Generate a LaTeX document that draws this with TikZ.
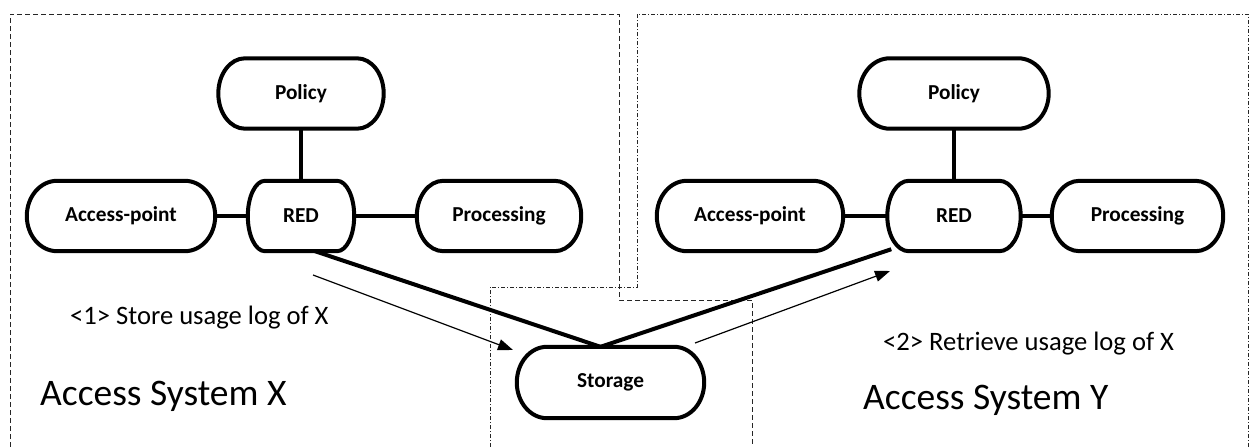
\documentclass[tikz,border=0pt]{standalone}
\usepackage{fontspec}
\setmainfont{Carlito}
\usetikzlibrary{arrows.meta,calc}

% Terminator outline (flowchart end shape) drawn around a placed node
\newcommand\termshape[1]{%
  \draw[outline] let \p1=(#1.south west), \p2=(#1.north east),
    \n1={0.161*(\x2-\x1)}, \n2={(\y2-\y1)/2} in
    (\x1+\n1,\y1) -- (\x2-\n1,\y1)
    arc[start angle=-90,end angle=90,x radius=\n1,y radius=\n2]
    -- (\x1+\n1,\y2)
    arc[start angle=90,end angle=270,x radius=\n1,y radius=\n2] -- cycle;}

\begin{document}
\begin{tikzpicture}[x=1pt,y=1pt,
  term/.style={rectangle,inner sep=0pt,minimum height=70pt,
    font=\bfseries\fontsize{21.3}{25}\selectfont},
  outline/.style={line width=4pt,line join=round},
  link/.style={line width=4pt},
  flow/.style={line width=1.2pt,-{Triangle[length=15pt,width=11pt]}},
  zonex/.style={line width=1pt,black!85,dash pattern=on 5pt off 3pt},
  zoney/.style={line width=1pt,black!85,dash pattern=on 4pt off 2pt on 1pt off 2pt},
  note/.style={inner sep=0pt,anchor=base west,font=\fontsize{26.6}{31}\selectfont},
  title/.style={inner sep=0pt,anchor=base west,font=\fontsize{37.5}{44}\selectfont}]

\useasboundingbox (0,0) rectangle (1250,-447);

% system boundaries
\draw[zonex] (10,-447) -- (10,-14) -- (619,-14) -- (619,-300) -- (752,-300) -- (752,-447);
\draw[zoney] (490,-447) -- (490,-287) -- (637,-287) -- (637,-14) -- (1248,-14) -- (1248,-447);

% access system X
\node[term,minimum width=165pt] (polx) at (301,-93.5) {Policy};
\node[term,minimum width=188pt] (apx) at (121,-216) {Access-point};
\node[term,minimum width=106pt] (redx) at (301,-216) {RED};
\node[term,minimum width=164pt] (procx) at (499,-216) {Processing};

% access system Y
\node[term,minimum width=189pt] (poly) at (954,-93.5) {Policy};
\node[term,minimum width=186pt] (apy) at (750,-216) {Access-point};
\node[term,minimum width=133pt] (redy) at (954,-216) {RED};
\node[term,minimum width=171pt] (procy) at (1137.5,-216) {Processing};

% shared storage
\node[term,minimum width=187pt,minimum height=71pt] (stor) at (610.5,-382.5) {Storage};

\foreach \nm in {polx,apx,redx,procx,poly,apy,redy,procy,stor} {\termshape{\nm}}

% internal links
\draw[link] (polx) -- (redx);
\draw[link] (apx) -- (redx);
\draw[link] (redx) -- (procx);
\draw[link] (poly) -- (redy);
\draw[link] (apy) -- (redy);
\draw[link] (redy) -- (procy);

% links to storage
\coordinate (meet) at ($(stor.north)+(-10,0)$);
\coordinate (xfoot) at ($(redx.south)+(14,0)$);
\coordinate (yfoot) at ($(redy.south west)+(4,2)$);
\draw[link] (xfoot) -- (meet);
\draw[link] (yfoot) -- (meet);

% data flows
\coordinate (f1a) at (313,-275);
\coordinate (f1b) at (513,-350);
\coordinate (f2a) at (695,-343);
\coordinate (f2b) at (890,-271);
\draw[flow] (f1a) -- (f1b);
\draw[flow] (f2a) -- (f2b);

% labels
\node[note] (stepone) at (70,-324) {<1> Store usage log of X};
\node[note] (steptwo) at (883,-350) {<2> Retrieve usage log of X};
\node[title] (sysx) at (40,-405) {Access System X};
\node[title] (sysy) at (863,-409) {Access System Y};

\end{tikzpicture}
\end{document}
